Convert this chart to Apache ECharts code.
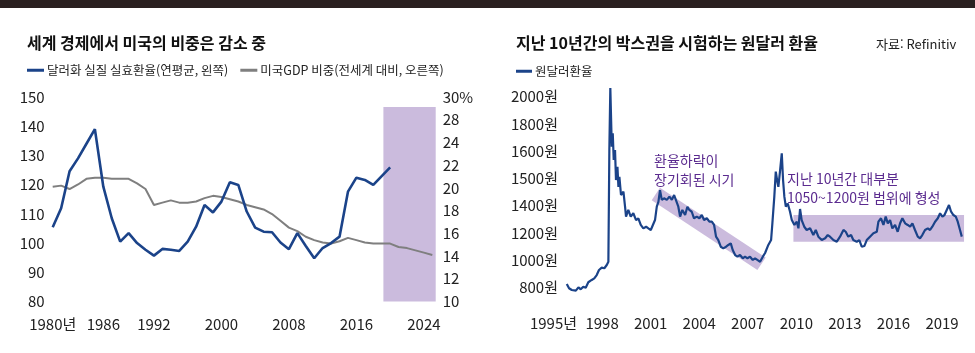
<!DOCTYPE html>
<html lang="ko">
<head>
<meta charset="UTF-8">
<title>달러화 실효환율과 원달러 환율</title>
<script src="https://cdn.jsdelivr.net/npm/echarts@6/dist/echarts.min.js"></script>
<style>
html, body { margin: 0; padding: 0; background: #fff; }
#cc { width: 975px; height: 353px; }
</style>
</head>
<body>
<div id="cc"></div>
<script>
var FONT = '"Noto Sans CJK KR", "Noto Sans", sans-serif';
var NAVY = '#1b4389';
var LILAC = '#cbbbdd';

// ---- left chart: dollar real effective rate vs US share of world GDP ----
var firstYear = 1980;
var dollarIndex = [105.4, 111.9, 124.6, 129, 134, 139, 119.3, 108.5, 100.5, 103.4,
    100, 97.7, 95.7, 98, 97.7, 97.3, 100.5, 105.6, 113, 110.5,
    114.2, 120.8, 119.9, 110.8, 105.3, 103.9, 103.7, 100.2, 97.9, 103.4,
    99, 94.8, 98.3, 100, 102.2, 117.6, 122.4, 121.6, 119.9, 122.9, 125.9];
var gdpShare = [20.1, 20.2, 19.9, 20.3, 20.8, 20.9, 20.9, 20.8, 20.8, 20.8,
    20.4, 19.9, 18.5, 18.7, 18.9, 18.7, 18.7, 18.8, 19.1, 19.3,
    19.2, 19.0, 18.8, 18.5, 18.3, 18.1, 17.7, 17.1, 16.5, 16.2,
    15.7, 15.4, 15.2, 15.1, 15.3, 15.6, 15.4, 15.2, 15.1, 15.1,
    15.1, 14.8, 14.7, 14.5, 14.3, 14.1];
var leftYearLabels = [1980, 1986, 1992, 2000, 2008, 2016, 2024];
var gdpTicks = [10, 12, 14, 16, 18, 20, 22, 24, 28, 30];
var forecastSpan = [2019.2, 2025.4];   // IMF forecast shading
var forecastTop = 146.6;

// ---- right chart: KRW/USD ----
var krwDates = [1995.82, 1995.96, 1996.13, 1996.38, 1996.54, 1996.68, 1996.84, 1996.99, 1997.15, 1997.36,
    1997.52, 1997.67, 1997.81, 1997.98, 1998.14, 1998.29, 1998.39, 1998.45, 1998.51, 1998.60,
    1998.66, 1998.72, 1998.80, 1998.86, 1998.95, 1999.01, 1999.07, 1999.17, 1999.32, 1999.42,
    1999.48, 1999.62, 1999.77, 1999.93, 2000.10, 2000.24, 2000.39, 2000.55, 2000.72, 2000.86,
    2001.01, 2001.13, 2001.27, 2001.38, 2001.48, 2001.58, 2001.69, 2001.83, 2002.00, 2002.16,
    2002.31, 2002.45, 2002.57, 2002.71, 2002.82, 2002.96, 2003.13, 2003.27, 2003.39, 2003.54,
    2003.68, 2003.85, 2004.01, 2004.16, 2004.30, 2004.47, 2004.63, 2004.78, 2004.92, 2005.04,
    2005.18, 2005.33, 2005.49, 2005.66, 2005.80, 2005.95, 2006.07, 2006.22, 2006.36, 2006.52,
    2006.69, 2006.83, 2006.98, 2007.14, 2007.31, 2007.45, 2007.59, 2007.76, 2007.93, 2008.07,
    2008.27, 2008.44, 2008.52, 2008.64, 2008.73, 2008.81, 2008.89, 2009.00, 2009.10, 2009.18,
    2009.26, 2009.35, 2009.47, 2009.61, 2009.72, 2009.88, 2010.03, 2010.13, 2010.23, 2010.33,
    2010.49, 2010.64, 2010.85, 2011.05, 2011.20, 2011.36, 2011.57, 2011.78, 2011.94, 2012.08,
    2012.29, 2012.50, 2012.70, 2012.91, 2013.05, 2013.21, 2013.38, 2013.52, 2013.73, 2013.89,
    2014.04, 2014.20, 2014.35, 2014.55, 2014.76, 2014.97, 2015.07, 2015.23, 2015.38, 2015.52,
    2015.65, 2015.79, 2015.93, 2016.10, 2016.26, 2016.41, 2016.55, 2016.72, 2016.88, 2017.03,
    2017.17, 2017.33, 2017.50, 2017.64, 2017.78, 2017.95, 2018.12, 2018.26, 2018.40, 2018.57,
    2018.74, 2018.88, 2019.02, 2019.15, 2019.29, 2019.43, 2019.56, 2019.70, 2019.85, 2019.97,
    2020.11, 2020.22];
var krwRate = [824, 793, 780, 775, 800, 785, 804, 797, 837, 854,
    866, 890, 927, 944, 940, 964, 988, 1609, 2064, 1633,
    1731, 1568, 1609, 1494, 1543, 1469, 1506, 1439, 1451, 1392,
    1319, 1368, 1319, 1344, 1294, 1307, 1258, 1233, 1245, 1233,
    1221, 1233, 1294, 1392, 1414, 1457, 1421, 1427, 1421, 1433,
    1421, 1439, 1433, 1392, 1319, 1368, 1331, 1392, 1368, 1355,
    1307, 1319, 1307, 1331, 1294, 1307, 1282, 1282, 1258, 1172,
    1147, 1098, 1086, 1098, 1111, 1123, 1074, 1037, 1025, 1037,
    1013, 1025, 1013, 1025, 1001, 1013, 1001, 988, 1025, 1052,
    1111, 1147, 1270, 1433, 1525, 1494, 1469, 1531, 1592, 1494,
    1433, 1392, 1408, 1355, 1294, 1258, 1282, 1233, 1375, 1294,
    1245, 1221, 1233, 1184, 1221, 1172, 1147, 1160, 1184, 1172,
    1147, 1135, 1172, 1221, 1208, 1172, 1184, 1147, 1135, 1147,
    1098, 1103, 1147, 1172, 1197, 1208, 1282, 1307, 1258, 1319,
    1270, 1294, 1233, 1258, 1208, 1270, 1307, 1270, 1258, 1245,
    1270, 1221, 1172, 1160, 1184, 1221, 1233, 1221, 1245, 1282,
    1307, 1344, 1319, 1331, 1368, 1402, 1355, 1331, 1319, 1282,
    1221, 1172];
var krwTicks = [800, 1000, 1200, 1400, 1500, 1600, 1800, 2000];
var krwYearLabels = [1995, 1998, 2001, 2004, 2007, 2010, 2013, 2016, 2019];
// declining-trend band (start / end) and the 10-year box range
var declineBand = [[2001.32, 1443], [2007.85, 973]];
var boxSpan = [2009.82, 2020.36];
var boxRange = [1135, 1331];

// the printed axes space their labels evenly even where the values jump
// (26 missing, 1400->1500), so values go to "label slots" piecewise
function toSlot(v, ticks) {
    var i = 0;
    while (i < ticks.length - 2 && v > ticks[i + 1]) i++;
    return i + (v - ticks[i]) / (ticks[i + 1] - ticks[i]);
}

var dollarData = dollarIndex.map(function (v, i) { return [firstYear + i, v]; });
var gdpData = gdpShare.map(function (v, i) { return [firstYear + i, toSlot(v, gdpTicks)]; });
var krwData = krwRate.map(function (v, i) { return [krwDates[i], toSlot(v, krwTicks)]; });

var chart = echarts.init(document.getElementById('cc'));

var axisText = { color: '#222', fontFamily: FONT, fontSize: 15 };

chart.setOption({
    animation: false,
    textStyle: { fontFamily: FONT },
    title: [{
        text: '세계 경제에서 미국의 비중은 감소 중',
        left: 22, top: 30,
        textStyle: { fontFamily: FONT, fontSize: 16, fontWeight: 'bold', color: '#111' }
    }, {
        text: '지난 10년간의 박스권을 시험하는 원달러 환율',
        left: 511, top: 30,
        textStyle: { fontFamily: FONT, fontSize: 16, fontWeight: 'bold', color: '#111' }
    }, {
        text: '자료: Refinitiv',
        left: 871, top: 33,
        textStyle: { fontFamily: FONT, fontSize: 13, fontWeight: 'normal', color: '#222' }
    }],
    legend: [{
        left: 22, top: 59,
        itemWidth: 17, itemHeight: 3, itemGap: 12,
        icon: 'rect',
        textStyle: { fontFamily: FONT, fontSize: 12.5, color: '#222', padding: [0, 0, 0, -2] },
        data: ['달러화 실질 실효환율(연평균, 왼쪽)', '미국GDP 비중(전세계 대비, 오른쪽)']
    }, {
        left: 511, top: 60,
        itemWidth: 16, itemHeight: 3,
        icon: 'rect',
        textStyle: { fontFamily: FONT, fontSize: 12.5, color: '#222', padding: [0, 0, 0, -2] },
        data: ['원달러환율']
    }],
    grid: [
        { left: 52.7, right: 539.3, top: 97, bottom: 51.5 },
        { left: 553.5, right: 10.3, top: 83.1, bottom: 65.7 }
    ],
    xAxis: [{
        gridIndex: 0, type: 'value', min: 1980, max: 2025.4, interval: 2,
        axisLine: { show: false }, axisTick: { show: false }, splitLine: { show: false },
        axisLabel: Object.assign({
            margin: 15, showMaxLabel: false,
            formatter: function (v) {
                if (leftYearLabels.indexOf(v) < 0) return '';
                return v === 1980 ? '1980년' : String(v);
            }
        }, axisText)
    }, {
        gridIndex: 1, type: 'value', min: 1995, max: 2020.4, interval: 3,
        axisLine: { show: false }, axisTick: { show: false }, splitLine: { show: false },
        axisLabel: Object.assign({
            margin: 28, showMaxLabel: false,
            formatter: function (v) {
                if (krwYearLabels.indexOf(v) < 0) return '';
                return v === 1995 ? '1995년' : String(v);
            }
        }, axisText)
    }],
    yAxis: [{
        gridIndex: 0, type: 'value', min: 80, max: 150, interval: 10,
        axisLine: { show: false }, axisTick: { show: false }, splitLine: { show: false },
        axisLabel: Object.assign({ margin: 8 }, axisText)
    }, {
        gridIndex: 0, type: 'value', position: 'right', min: 0, max: gdpTicks.length - 1, interval: 1,
        axisLine: { show: false }, axisTick: { show: false }, splitLine: { show: false },
        axisLabel: Object.assign({
            margin: 7, align: 'left',
            formatter: function (v) {
                if (v !== Math.round(v)) return '';
                return gdpTicks[v] + (v === gdpTicks.length - 1 ? '%' : '');
            }
        }, axisText)
    }, {
        gridIndex: 1, type: 'value', min: 0, max: 7.5, interval: 1,
        axisLine: { show: false }, axisTick: { show: false }, splitLine: { show: false },
        axisLabel: Object.assign({
            margin: -4.5, showMaxLabel: false,
            formatter: function (v) {
                if (v !== Math.round(v) || v >= krwTicks.length) return '';
                return krwTicks[v] + '원';
            }
        }, axisText)
    }],
    graphic: [{
        type: 'rect', left: 0, top: 0, silent: true,
        shape: { width: 975, height: 8 },
        style: { fill: '#2a2020' }
    }, {
        type: 'text', left: 397, top: 129, silent: true,
        style: { text: '전망\nIMF', fill: '#222', font: '15px ' + FONT, lineHeight: 20, align: 'center' }
    }, {
        type: 'text', left: 654, top: 151, silent: true,
        style: { text: '환율하락이\n장기회된 시기', fill: '#5b2b8f', font: '14px ' + FONT, lineHeight: 19 }
    }, {
        type: 'text', left: 787, top: 169, silent: true,
        style: { text: '지난 10년간 대부분\n1050~1200원 범위에 형성', fill: '#5b2b8f', font: '14px ' + FONT, lineHeight: 19 }
    }],
    series: [{
        // IMF forecast shading
        type: 'line', xAxisIndex: 0, yAxisIndex: 0, data: [], z: 1, silent: true,
        markArea: {
            silent: true,
            itemStyle: { color: LILAC },
            data: [[{ xAxis: forecastSpan[0], yAxis: 80 }, { xAxis: forecastSpan[1], yAxis: forecastTop }]]
        }
    }, {
        name: '미국GDP 비중(전세계 대비, 오른쪽)',
        type: 'line', xAxisIndex: 0, yAxisIndex: 1, z: 3,
        data: gdpData, symbol: 'none',
        lineStyle: { color: '#7f7f7f', width: 2 },
        itemStyle: { color: '#7f7f7f' }
    }, {
        name: '달러화 실질 실효환율(연평균, 왼쪽)',
        type: 'line', xAxisIndex: 0, yAxisIndex: 0, z: 4,
        data: dollarData, symbol: 'none',
        lineStyle: { color: NAVY, width: 2.6 },
        itemStyle: { color: NAVY }
    }, {
        // decline band, drawn as a thick butt-capped stroke
        type: 'line', xAxisIndex: 1, yAxisIndex: 2, z: 1, silent: true,
        data: declineBand.map(function (p) { return [p[0], toSlot(p[1], krwTicks)]; }),
        symbol: 'none',
        lineStyle: { color: LILAC, width: 15, cap: 'butt' },
        markArea: {
            silent: true,
            itemStyle: { color: LILAC },
            data: [[
                { xAxis: boxSpan[0], yAxis: toSlot(boxRange[1], krwTicks) },
                { xAxis: boxSpan[1], yAxis: toSlot(boxRange[0], krwTicks) }
            ]]
        }
    }, {
        name: '원달러환율',
        type: 'line', xAxisIndex: 1, yAxisIndex: 2, z: 4, clip: false,
        data: krwData, symbol: 'none',
        lineStyle: { color: NAVY, width: 2.2 },
        itemStyle: { color: NAVY }
    }]
});
</script>
</body>
</html>
